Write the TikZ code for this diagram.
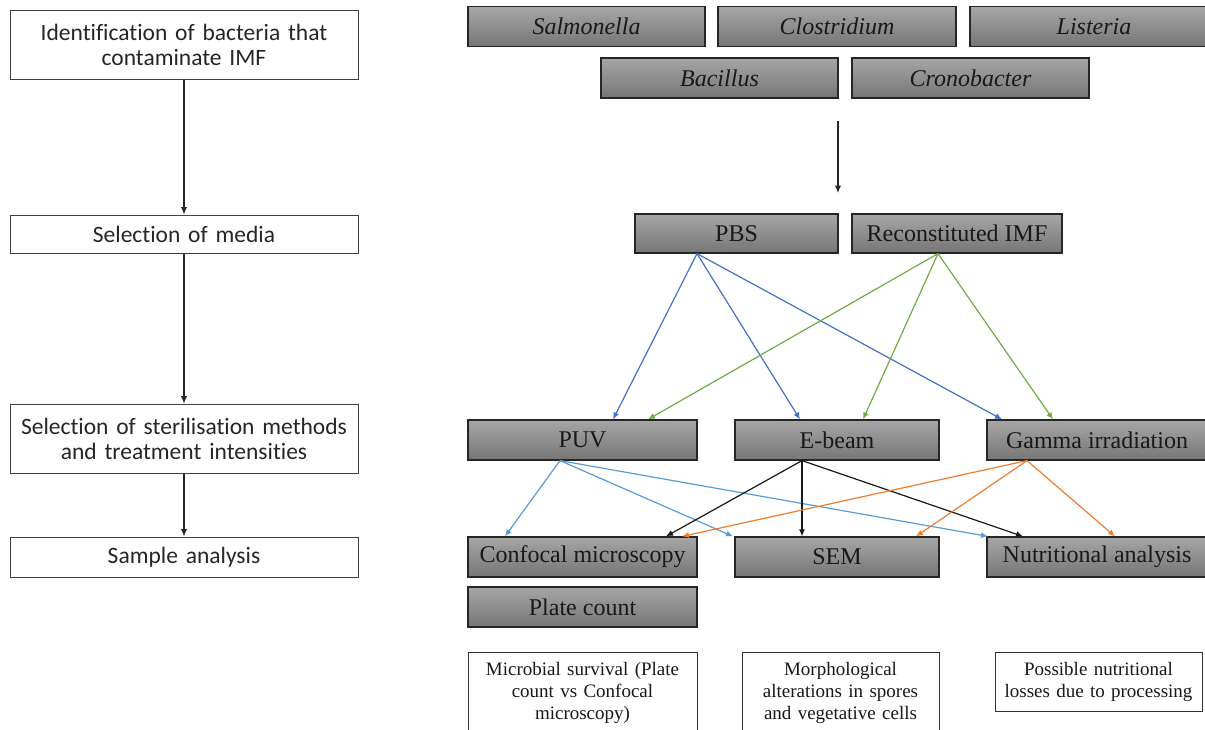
\documentclass[tikz,border=0pt]{standalone}
\usepackage{fontspec}
\setmainfont{Liberation Serif}
\newfontfamily\calib[Ligatures=NoCommon]{Carlito}
\usetikzlibrary{arrows.meta}
\definecolor{cBlue}{HTML}{4472C4}
\definecolor{cGreen}{HTML}{70AD47}
\definecolor{cLight}{HTML}{5B9BD5}
\definecolor{cOrange}{HTML}{ED7D31}
\definecolor{gTop}{HTML}{A6A6A6}
\definecolor{gBot}{HTML}{767676}
\begin{document}
\begin{tikzpicture}[x=1pt,y=-1pt,
  gbox/.style={draw=black!85, line width=1.2pt, top color=gTop, bottom color=gBot,
    inner sep=0pt, minimum height=40pt, font=\fontsize{24}{28}\selectfont, text=black!90},
  spbox/.style={gbox, font=\fontsize{24}{28}\selectfont\itshape},
  lbox/.style={draw=black!75, line width=1pt, fill=white, inner sep=0pt,
    minimum width=348pt, text width=340pt, align=center,
    font=\calib\fontsize{23.5}{25}\selectfont, text=black!85},
  wbox/.style={draw=black!80, line width=0.8pt, fill=white, inner xsep=2pt,
    inner ysep=10pt, align=center, font=\fontsize{19}{22}\selectfont, text=black!90},
  conn/.style={line width=1.2pt, -{Latex[length=7pt,width=6pt]}},
  larr/.style={line width=1.2pt, black!85, -{Latex[length=7.5pt,width=6.5pt]}}
]
\useasboundingbox (0,0) rectangle (1205,729);
\clip (0,0) rectangle (1205,729);

% left column
\node[lbox, minimum height=69pt] (id) at (184,44.5) {Identification of bacteria that\\contaminate IMF};
\node[lbox, minimum height=38pt] (med) at (184,234) {Selection of media};
\node[lbox, minimum height=69pt] (ster) at (184,438.5) {Selection of sterilisation methods\\and treatment intensities};
\node[lbox, minimum height=40pt] (samp) at (184,557) {Sample analysis};
\draw[larr] (id) -- (med);
\draw[larr] (med) -- (ster);
\draw[larr] (ster) -- (samp);

% species
\node[spbox, minimum width=237pt] (sal) at (586.5,26.5) {Salmonella};
\node[spbox, minimum width=238pt] (clo) at (837,26.5) {Clostridium};
\node[spbox, minimum width=248pt] (lis) at (1094,26.5) {Listeria};
\node[spbox, minimum width=237pt] (bac) at (719.5,78) {Bacillus};
\node[spbox, minimum width=237pt] (cro) at (970.5,78) {Cronobacter};

\coordinate (a1) at (838,121);
\coordinate (a2) at (838,193);
\draw[larr] (a1) -- (a2);

% media
\node[gbox, minimum width=203pt, minimum height=39pt] (pbs) at (736.5,233.5) {PBS};
\node[gbox, minimum width=210pt, minimum height=39pt] (rec) at (957,233.5) {Reconstituted IMF};

% methods
\node[gbox, minimum width=229pt] (puv) at (582.5,440) {PUV};
\node[gbox, minimum width=204pt] (eb) at (837,440) {E-beam};
\node[gbox, minimum width=220pt] (gam) at (1097,440) {Gamma irradiation};

% analyses
\node[gbox, minimum width=229pt] (con) at (582.5,557) {Confocal microscopy};
\node[gbox, minimum width=204pt] (sem) at (837,557) {SEM};
\node[gbox, minimum width=220pt] (nut) at (1097,557) {Nutritional analysis};
\node[gbox, minimum width=229pt] (pla) at (582.5,607) {Plate count};

% outcome boxes
\node[wbox, text width=225pt, anchor=north, text depth=60pt] (o1) at (582.5,652) {Microbial survival (Plate\\count vs Confocal\\microscopy)};
\node[wbox, text width=193pt, anchor=north, text depth=60pt] (o2) at (840.5,652) {Morphological\\alterations in spores\\and vegetative cells};
\node[wbox, text width=203pt, anchor=north] (o3) at (1098.5,652) {Possible nutritional\\losses due to processing};

% PBS connectors
\draw[conn, cBlue] ([xshift=-39.5pt]pbs.south) -- ([xshift=30.5pt]puv.north);
\draw[conn, cBlue] ([xshift=-39.5pt]pbs.south) -- ([xshift=-37pt]eb.north);
\draw[conn, cBlue] ([xshift=-39.5pt]pbs.south) -- ([xshift=-95pt]gam.north);
% Reconstituted connectors
\draw[conn, cGreen] ([xshift=-19pt]rec.south) -- ([xshift=65.5pt]puv.north);
\draw[conn, cGreen] ([xshift=-19pt]rec.south) -- ([xshift=26pt]eb.north);
\draw[conn, cGreen] ([xshift=-19pt]rec.south) -- ([xshift=-44pt]gam.north);
% PUV connectors
\draw[conn, cLight] ([xshift=-22.5pt]puv.south) -- ([xshift=-77.5pt]con.north);
\draw[conn, cLight] ([xshift=-22.5pt]puv.south) -- ([xshift=-104pt]sem.north);
\draw[conn, cLight] ([xshift=-22.5pt]puv.south) -- ([xshift=-109pt]nut.north);
% E-beam connectors
\draw[conn, black!90] ([xshift=-35pt]eb.south) -- ([xshift=83.5pt]con.north);
\draw[conn, black!90] ([xshift=-35pt]eb.south) -- ([xshift=-35pt]sem.north);
\draw[conn, black!90] ([xshift=-35pt]eb.south) -- ([xshift=-74pt]nut.north);
% Gamma connectors
\draw[conn, cOrange] ([xshift=-70pt]gam.south) -- ([xshift=99.5pt]con.north);
\draw[conn, cOrange] ([xshift=-70pt]gam.south) -- ([xshift=79pt]sem.north);
\draw[conn, cOrange] ([xshift=-70pt]gam.south) -- ([xshift=18pt]nut.north);
\end{tikzpicture}
\end{document}
